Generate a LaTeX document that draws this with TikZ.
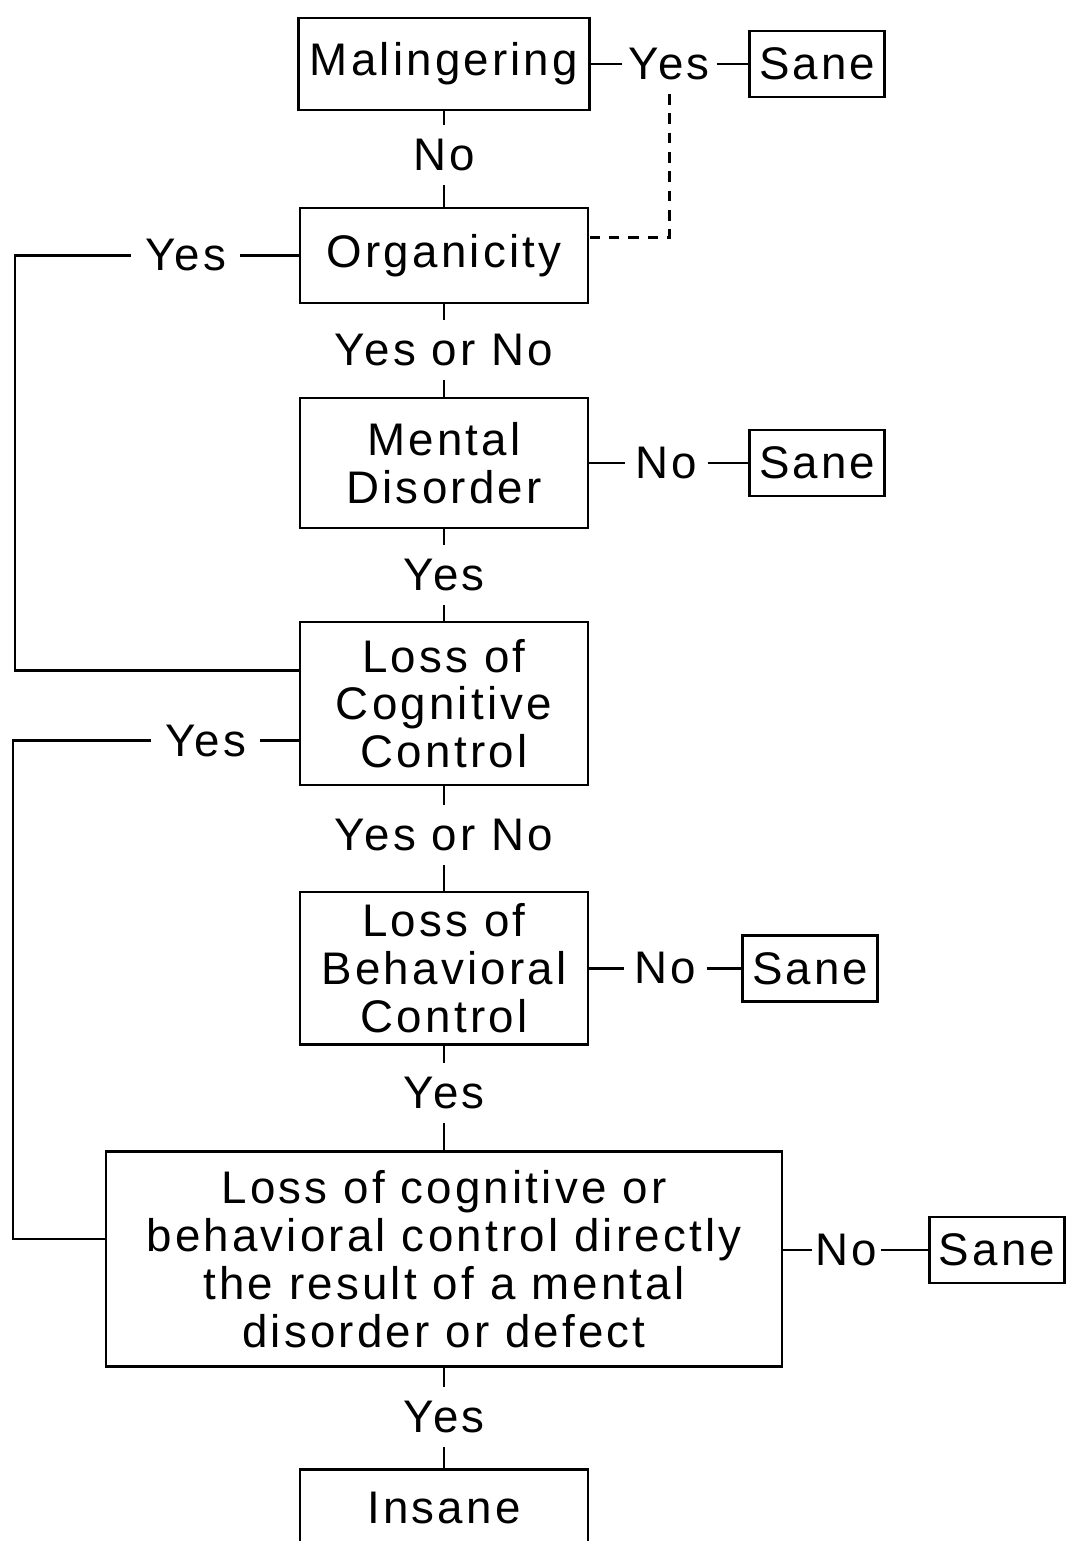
\documentclass[tikz,border=0pt]{standalone}
\usepackage{fontspec}
\setmainfont{Liberation Sans}[LetterSpace=7]
\usepackage{tikz}
\usetikzlibrary{calc,positioning,shapes}

\begin{document}
\begin{tikzpicture}[auto,font=\fontsize{13}{13.6}\selectfont,line width=0.7pt,every node/.style={outer sep=0pt}]
	\tikzstyle{block} = [draw, rectangle, line width=0.8pt, minimum width=2.88cm, align=center]
	\tikzstyle{sane} = [draw, rectangle, line width=0.8pt, minimum height=0.66cm, minimum width=1.35cm, inner sep=1pt]
	\tikzstyle{answer} = [rectangle, minimum height=0.6cm, inner xsep=3pt, inner ysep=1pt]

	\useasboundingbox (0,0) rectangle (10.7,-15.41);

	\node [block, minimum height=0.92cm] (mal) at (4.44,-0.64) {Malingering};
	\node [answer, inner xsep=2pt, right = 0.32cm of mal] (yes1) {Yes};
	\node [sane, right = 0.33cm of yes1] (sane1) {Sane};

	\node [answer, below = 0.15cm of mal] (no1) {No};
	\node [block, minimum height=0.95cm, below = 0.23cm of no1] (org) {Organicity};
	\node [answer, inner xsep=4pt, left = 0.6cm of org] (yesL1) {Yes};
	\node [coordinate, left = 1.16cm of yesL1] (l1) {};

	\node [answer, below = 0.17cm of org] (yn1) {Yes or No};
	\node [block, minimum height=1.3cm, below = 0.18cm of yn1] (ment) {Mental\\Disorder};
	\node [answer, right = 0.37cm of ment] (no2) {No};
	\node [sane, right = 0.42cm of no2] (sane2) {Sane};

	\node [answer, below = 0.17cm of ment] (yes2) {Yes};
	\node [block, minimum height=1.63cm, below = 0.17cm of yes2] (cog) {Loss of\\Cognitive\\Control};
	\node [answer, inner xsep=4pt, left = 0.4cm of cog, yshift=-3.7mm] (yesL2) {Yes};
	\node [coordinate, left = 1.38cm of yesL2] (l2) {};

	\node [answer, below = 0.2cm of cog] (yn2) {Yes or No};
	\node [block, minimum height=1.48cm, below = 0.27cm of yn2] (beh) {Loss of\\Behavioral\\Control};
	\node [answer, right = 0.36cm of beh] (no3) {No};
	\node [sane, right = 0.36cm of no3] (sane3) {Sane};

	\node [answer, below = 0.18cm of beh] (yes3) {Yes};
	\node [block, minimum width=6.76cm, minimum height=2.15cm, below = 0.29cm of yes3] (big) {Loss of cognitive or\\behavioral control directly\\the result of a mental\\disorder or defect};
	\node [answer, inner xsep=1pt, right = 0.3cm of big, yshift=0.9mm] (no4) {No};
	\node [sane, right = 0.49cm of no4] (sane4) {Sane};

	\node [answer, below = 0.2cm of big] (yes4) {Yes};
	\node [block, minimum height=0.76cm, below = 0.23cm of yes4] (ins) {Insane};

	\draw [-] (mal) -- (yes1);
	\draw [-] (yes1) -- (sane1);
	\draw [dashed, dash pattern=on 3pt off 2.5pt] (yes1) |- ([yshift=1.8mm]org.east);
	\draw [-] (mal) -- (no1);
	\draw [-] (no1) -- (org);
	\draw [-] (org) -- (yesL1);
	\draw [-] (yesL1) -- (l1) |- ([yshift=3.3mm]cog.west);
	\draw [-] (org) -- (yn1);
	\draw [-] (yn1) -- (ment);
	\draw [-] (ment) -- (no2);
	\draw [-] (no2) -- (sane2);
	\draw [-] (ment) -- (yes2);
	\draw [-] (yes2) -- (cog);
	\draw [-] ([yshift=-3.7mm]cog.west) -- (yesL2);
	\draw [-] (yesL2) -- (l2) |- ([yshift=2mm]big.west);
	\draw [-] (cog) -- (yn2);
	\draw [-] (yn2) -- (beh);
	\draw [-] (beh) -- (no3);
	\draw [-] (no3) -- (sane3);
	\draw [-] (beh) -- (yes3);
	\draw [-] (yes3) -- (big);
	\draw [-] ([yshift=0.9mm]big.east) -- (no4);
	\draw [-] (no4) -- (sane4);
	\draw [-] (big) -- (yes4);
	\draw [-] (yes4) -- (ins);

\end{tikzpicture}
\end{document}
